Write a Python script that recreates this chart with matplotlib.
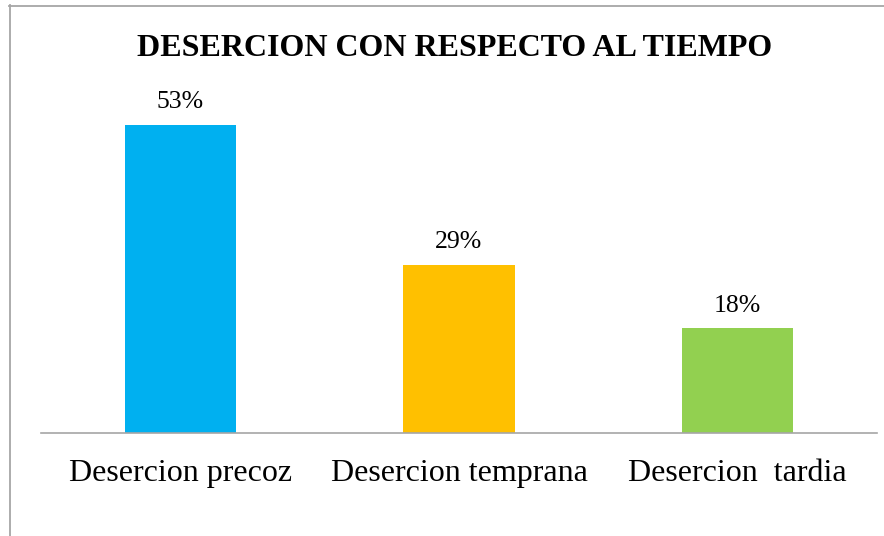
import matplotlib.pyplot as plt
from matplotlib.lines import Line2D

categories = ["Desercion precoz", "Desercion temprana", "Desercion  tardia"]
values = [53, 29, 18]
labels = ["53%", "29%", "18%"]
colors = ["#00B0F0", "#FFC000", "#92D050"]

plt.rcParams['font.family'] = ['Liberation Serif', 'DejaVu Serif']

W, H = 884, 536
fig = plt.figure(figsize=(W / 100, H / 100), dpi=100)

# plot area in pixels: left 41, right 877, baseline 433
ax = fig.add_axes([41 / W, (H - 433) / H, 836 / W, 348.6 / H])
x = range(len(categories))
ax.bar(x, values, width=0.40, color=colors)
ax.set_xlim(-0.5, len(categories) - 0.5)
ax.set_ylim(0, 60)

for i, v in enumerate(values):
    ax.annotate(labels[i], (i, v), xytext=(0, 12), textcoords='offset points',
                ha='center', va='baseline', fontsize=18.5)

ax.set_xticks(list(x))
ax.set_xticklabels(categories, fontsize=23)
ax.tick_params(axis='x', length=0, pad=19)
ax.set_yticks([])
for s in ['top', 'right', 'left']:
    ax.spines[s].set_visible(False)
ax.spines['bottom'].set_color('#A6A6A6')
ax.spines['bottom'].set_linewidth(1.2)

fig.text(455 / W, 1 - 56 / H, "DESERCION CON RESPECTO AL TIEMPO",
         ha='center', va='baseline', fontsize=23, fontweight='bold')

# chart border (top and left visible)
fig.add_artist(Line2D([9 / W, 1], [1 - 5.5 / H, 1 - 5.5 / H], color='#A6A6A6', lw=1.3))
fig.add_artist(Line2D([9.5 / W, 9.5 / W], [0, 1 - 5 / H], color='#A6A6A6', lw=1.3))

fig.savefig("out.png", dpi=100)
